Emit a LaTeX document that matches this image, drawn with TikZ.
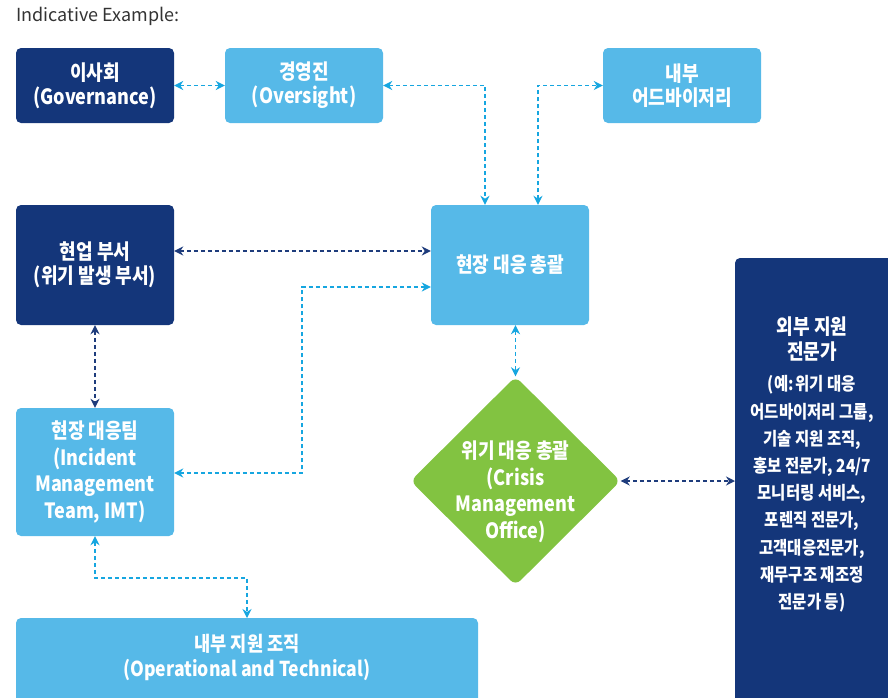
\documentclass[tikz,border=0pt]{standalone}
\usepackage{fontspec}
\setmainfont{Noto Sans CJK KR}
\newfontfamily\boxfont{Noto Sans CJK KR}[FakeStretch=0.86]
\usetikzlibrary{arrows.meta,shapes.geometric}
\definecolor{navy}{HTML}{14367A}
\definecolor{lblue}{HTML}{56B9E8}
\definecolor{green}{HTML}{82C341}
\definecolor{alblue}{HTML}{16A6E0}
\definecolor{anavy}{HTML}{1E3C7C}
\definecolor{txtgray}{HTML}{333333}
\tikzset{
  boxbase/.style={rounded corners=5pt, inner sep=0pt, text=white, align=center, font=\boxfont\bfseries\fontsize{21}{24}\selectfont},
  darkbox/.style={boxbase, fill=navy},
  lightbox/.style={boxbase, fill=lblue},
  lconn/.style={draw=alblue, line width=1.8pt, dash pattern=on 4pt off 3pt, {Stealth[length=9pt,width=9pt]}-{Stealth[length=9pt,width=9pt]}},
  dconn/.style={draw=anavy, line width=1.8pt, dash pattern=on 4pt off 3pt, {Stealth[length=9pt,width=9pt]}-{Stealth[length=9pt,width=9pt]}},
  lbl/.style={text=white, align=center, inner sep=0pt},
}
\begin{document}
\begin{tikzpicture}[x=1pt,y=-1pt]
\useasboundingbox (0,0) rectangle (888,697);
\node[anchor=north west, inner sep=0pt, text=txtgray, font=\fontsize{18}{20}\selectfont] (title) at (16,7) {Indicative Example:};

\node[darkbox, minimum width=158pt, minimum height=75pt] (board) at (95,85.5) {이사회\\(Governance)};
\node[lightbox, minimum width=158pt, minimum height=75pt] (mgmt) at (304,85.5) {경영진\\(Oversight)};
\node[lightbox, minimum width=158pt, minimum height=75pt] (adv) at (682,85.5) {내부\\어드바이저리};
\node[darkbox, minimum width=158pt, minimum height=120pt] (biz) at (95,265) {현업 부서\\(위기 발생 부서)};
\node[lightbox, minimum width=158pt, minimum height=120pt] (lead) at (510,265) {현장 대응 총괄};
\node[lightbox, minimum width=158pt, minimum height=128pt, font=\boxfont\bfseries\fontsize{21}{26.5}\selectfont] (imt) at (95,472) {현장 대응팀\\(Incident\\Management\\Team, IMT)};

\path[fill=lblue, rounded corners=5pt] (16,618) rectangle (478,720);
\coordinate (supporttop) at (247,618);
\node[lbl, font=\boxfont\bfseries\fontsize{20.5}{25}\selectfont] (support) at (247,657) {내부 지원 조직\\(Operational and Technical)};

\path[fill=navy, rounded corners=5pt] (735,258) rectangle (900,720);
\coordinate (extleft) at (735,481);
\node[lbl, font=\boxfont\bfseries\fontsize{21}{25}\selectfont] (exttitle) at (812,339) {외부 지원\\전문가};
\node[lbl, font=\boxfont\bfseries\fontsize{18}{27.2}\selectfont] (extbody) at (812,494) {(예:\hspace{-0.15em} 위기 대응\\어드바이저리 그룹,\\기술 지원 조직,\\홍보 전문가, 24/7\\모니터링 서비스,\\포렌직 전문가,\\고객대응전문가,\\재무구조 재조정\\전문가 등)};

\node[diamond, fill=green, rounded corners=7pt, inner sep=0pt, minimum width=210pt, minimum height=209pt] (cmo) at (515.5,481) {};
\node[lbl, font=\boxfont\bfseries\fontsize{21}{26.5}\selectfont] (cmotext) at (515.5,492) {위기 대응 총괄\\(Crisis\\Management\\Office)};

% connectors
\draw[lconn] (board.east) -- (mgmt.west);
\draw[lconn] (mgmt.east) -| (lead.north -| 485,0);
\draw[lconn] (lead.north -| 538,0) |- (adv.west);
\draw[dconn] (biz.east |- 0,251) -- (lead.west |- 0,251);
\draw[lconn] (imt.east |- 0,473) -| (302,287) -- (lead.west |- 0,287);
\draw[dconn] (biz.south) -- (imt.north);
\draw[lconn] (imt.south) |- (247,578) -- (supporttop);
\draw[lconn] (lead.south -| cmo.north) -- (cmo.north);
\draw[dconn] (cmo.east) -- (extleft);
\end{tikzpicture}
\end{document}
